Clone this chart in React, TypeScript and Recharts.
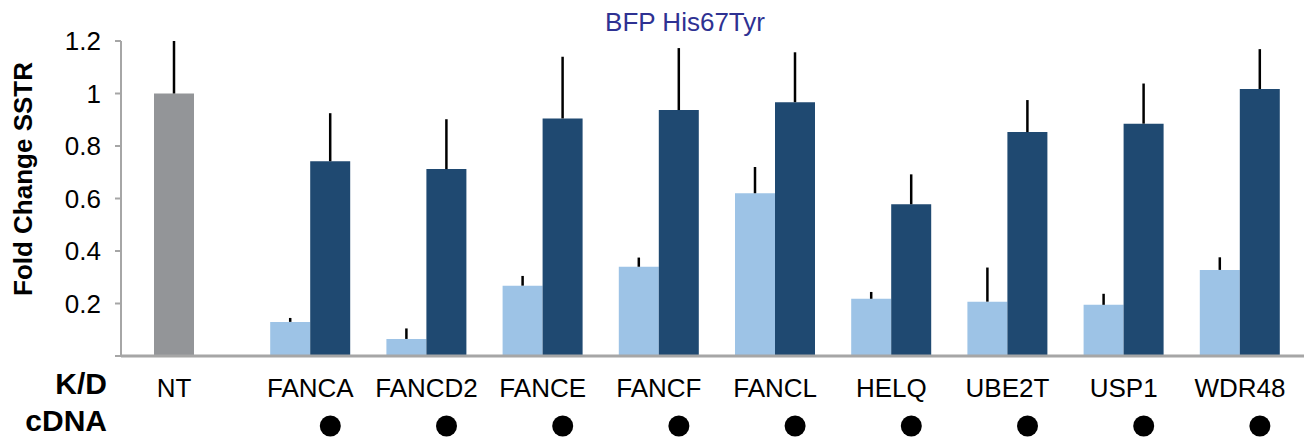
import { BarChart, Bar, XAxis, YAxis, ErrorBar, Cell } from 'recharts';

document.body.style.margin = '0';

const categories = ['NT', 'FANCA', 'FANCD2', 'FANCE', 'FANCF', 'FANCL', 'HELQ', 'UBE2T', 'USP1', 'WDR48'];
// knock-down only (light) and knock-down + cDNA rescue (dark)
const kdValues = [1.0, 0.13, 0.065, 0.268, 0.34, 0.62, 0.218, 0.207, 0.195, 0.328];
const kdErrors = [0.2, 0.015, 0.04, 0.037, 0.035, 0.1, 0.026, 0.13, 0.042, 0.048];
const cdnaValues = [null, 0.742, 0.712, 0.905, 0.937, 0.967, 0.578, 0.853, 0.885, 1.017];
const cdnaErrors = [null, 0.183, 0.19, 0.235, 0.236, 0.19, 0.114, 0.122, 0.153, 0.152];
const yTicks = [0, 0.2, 0.4, 0.6, 0.8, 1, 1.2];

const BAR = 40;
const FONT = '"Liberation Sans", Arial, sans-serif';
const AXIS_GREY = '#a6a6a6';

const data = categories.map((name, i) => ({
  name,
  kd: kdValues[i],
  kdErr: [0, kdErrors[i]],
  cdna: cdnaValues[i],
  cdnaErr: cdnaErrors[i] == null ? null : [0, cdnaErrors[i]],
}));

const KdTick = (props: any) => {
  const { x, y, payload, index } = props;
  const hasCdna = cdnaValues[index] != null;
  // NT has no rescue bar, so its label sits under the single grey bar
  const labelX = hasCdna ? x : x - BAR / 2;
  return (
    <g>
      <text x={labelX} y={y + 41} textAnchor="middle" fontSize={26} fontFamily={FONT} fill="#000">
        {payload.value}
      </text>
      {hasCdna && <circle cx={x + BAR / 2} cy={y + 70} r={10.5} fill="#000" />}
    </g>
  );
};

export default function App() {
  return (
    <div style={{ position: 'relative', width: 1304, height: 438, fontFamily: FONT }}>
      <BarChart
        width={1304}
        height={438}
        data={data}
        margin={{ top: 41, right: 0, bottom: 0, left: 0 }}
        barGap={0}
        barSize={BAR}
      >
        <XAxis
          dataKey="name"
          height={82}
          padding={{ left: 15, right: 6 }}
          tickLine={false}
          tickSize={0}
          tickMargin={0}
          axisLine={{ stroke: AXIS_GREY, strokeWidth: 3 }}
          tick={<KdTick />}
          interval={0}
        />
        <YAxis
          width={121}
          domain={[0, 1.2]}
          ticks={yTicks}
          tickFormatter={(v: number) => (v === 0 ? '' : String(v))}
          tickSize={6}
          tickMargin={14}
          axisLine={{ stroke: AXIS_GREY, strokeWidth: 2 }}
          tickLine={{ stroke: AXIS_GREY, strokeWidth: 2 }}
          tick={{ fontSize: 26, fill: '#000', fontFamily: FONT }}
        />
        <Bar dataKey="kd" fill="#9dc3e6" isAnimationActive={false}>
          {data.map((d, i) => (
            <Cell key={d.name} fill={i === 0 ? '#939598' : '#9dc3e6'} />
          ))}
          <ErrorBar dataKey="kdErr" width={0} stroke="#000" strokeWidth={2.5} />
        </Bar>
        <Bar dataKey="cdna" fill="#1f4971" isAnimationActive={false}>
          <ErrorBar dataKey="cdnaErr" width={0} stroke="#000" strokeWidth={2.5} />
        </Bar>
      </BarChart>

      <div style={{ position: 'absolute', left: 0, top: 7, width: 1370, textAlign: 'center', fontSize: 26, color: '#2e3192' }}>
        BFP His67Tyr
      </div>
      <div
        style={{
          position: 'absolute', left: 23, top: 179, transform: 'translate(-50%, -50%) rotate(-90deg)',
          fontSize: 26, fontWeight: 'bold', whiteSpace: 'nowrap',
        }}
      >
        Fold Change SSTR
      </div>
      <div style={{ position: 'absolute', right: 1304 - 107, top: 366, fontSize: 30, fontWeight: 'bold', lineHeight: '36px' }}>
        K/D
      </div>
      <div style={{ position: 'absolute', right: 1304 - 107, top: 403, fontSize: 30, fontWeight: 'bold', lineHeight: '36px' }}>
        cDNA
      </div>
    </div>
  );
}
